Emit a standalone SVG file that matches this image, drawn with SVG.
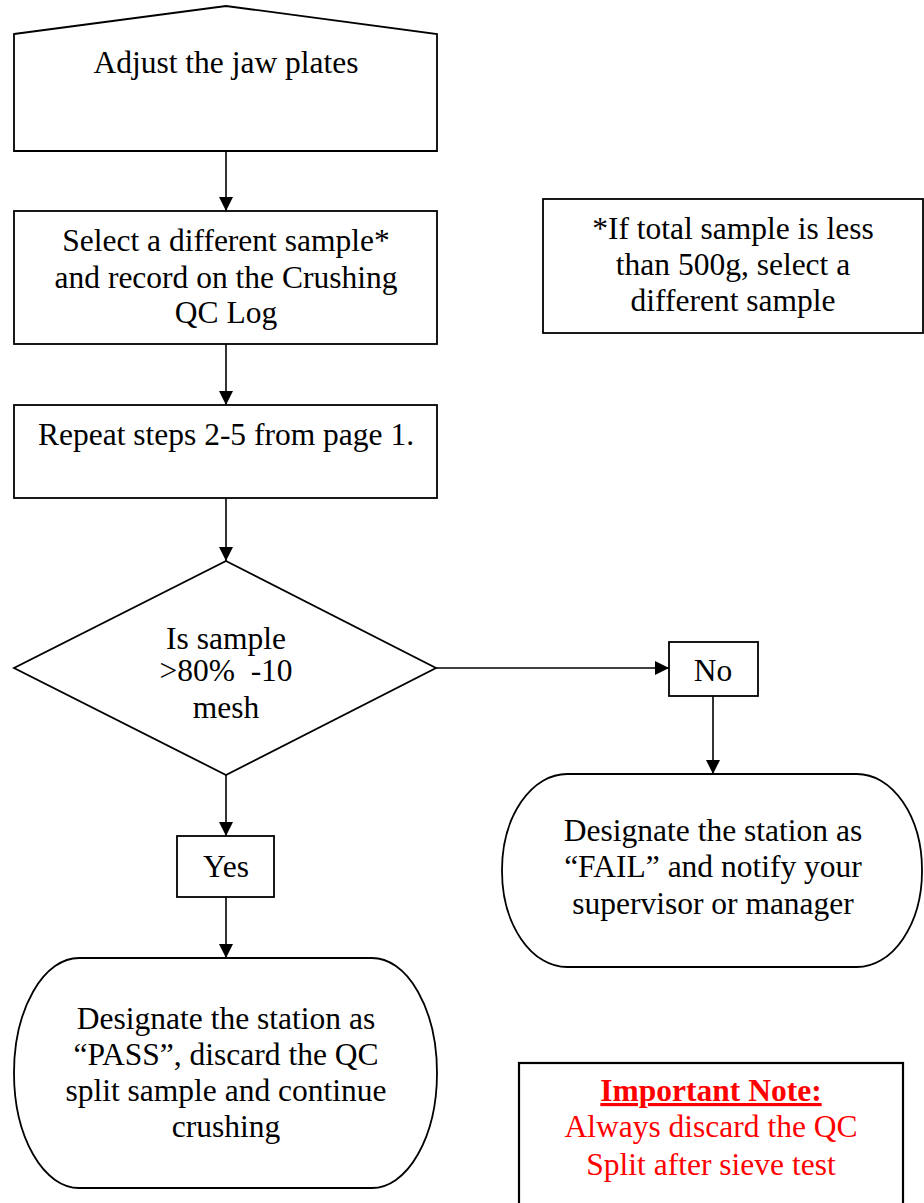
<svg xmlns="http://www.w3.org/2000/svg" width="924" height="1203" viewBox="0 0 924 1203">
<defs>
<style>
.s{fill:#fff;stroke:#000;stroke-width:1.8}
.t{font-family:"Liberation Serif","Times New Roman",serif;font-size:31.5px;fill:#000;text-anchor:middle}
.r{fill:#f00}
.c{stroke:#000;stroke-width:1.6;fill:none}
</style>
<marker id="ah" markerWidth="14" markerHeight="14" refX="14" refY="7" orient="auto" markerUnits="userSpaceOnUse">
<path d="M0,0 L14,7 L0,14 Z" fill="#000"/>
</marker>
</defs>
<rect width="924" height="1203" fill="#fff"/>
<g id="connectors">
<line class="c" x1="226" y1="151" x2="226" y2="211" marker-end="url(#ah)"/>
<line class="c" x1="226" y1="344" x2="226" y2="405" marker-end="url(#ah)"/>
<line class="c" x1="226" y1="498" x2="226" y2="561" marker-end="url(#ah)"/>
<line class="c" x1="436" y1="668" x2="669" y2="668" marker-end="url(#ah)"/>
<line class="c" x1="713" y1="696" x2="713" y2="774" marker-end="url(#ah)"/>
<line class="c" x1="226" y1="775" x2="226" y2="836" marker-end="url(#ah)"/>
<line class="c" x1="226" y1="897" x2="226" y2="958" marker-end="url(#ah)"/>
</g>
<g id="adjust">
<path class="s" d="M14,34 L226,6 L437,34 L437,151 L14,151 Z"/>
<text class="t" x="226" y="73">Adjust the jaw plates</text>
</g>
<g id="select">
<rect class="s" x="14" y="211" width="423" height="133"/>
<text class="t" x="226" y="251">Select a different sample*</text>
<text class="t" x="226" y="288">and record on the Crushing</text>
<text class="t" x="226" y="323">QC Log</text>
</g>
<g id="note">
<rect class="s" x="543" y="199" width="380" height="134"/>
<text class="t" x="733" y="239">*If total sample is less</text>
<text class="t" x="733" y="275">than 500g, select a</text>
<text class="t" x="733" y="311">different sample</text>
</g>
<g id="repeat">
<rect class="s" x="14" y="405" width="423" height="93"/>
<text class="t" x="226" y="445">Repeat steps 2-5 from page 1.</text>
</g>
<g id="decision">
<path class="s" d="M226,561 L436,668 L226,775 L14,668 Z"/>
<text class="t" x="226" y="649">Is sample</text>
<text class="t" x="226" y="681" xml:space="preserve">&gt;80%  -10</text>
<text class="t" x="226" y="718">mesh</text>
</g>
<g id="no">
<rect class="s" x="669" y="642" width="89" height="54"/>
<text class="t" x="713" y="681">No</text>
</g>
<g id="fail">
<rect class="s" x="502" y="774" width="420" height="193" rx="65" ry="96"/>
<text class="t" x="713" y="841">Designate the station as</text>
<text class="t" x="713" y="877">“FAIL” and notify your</text>
<text class="t" x="713" y="914">supervisor or manager</text>
</g>
<g id="yes">
<rect class="s" x="177" y="836" width="97" height="61"/>
<text class="t" x="226" y="877">Yes</text>
</g>
<g id="pass">
<rect class="s" x="14" y="958" width="423" height="230" rx="65" ry="115"/>
<text class="t" x="226" y="1029">Designate the station as</text>
<text class="t" x="226" y="1065">“PASS”, discard the QC</text>
<text class="t" x="226" y="1101">split sample and continue</text>
<text class="t" x="226" y="1137">crushing</text>
</g>
<g id="important">
<rect x="519" y="1063" width="384" height="150" fill="#fff" stroke="#000" stroke-width="2.2"/>
<text class="t r" x="711" y="1101" font-weight="bold" text-decoration="underline">Important Note:</text>
<text class="t r" x="711" y="1137">Always discard the QC</text>
<text class="t r" x="711" y="1175">Split after sieve test</text>
</g>
</svg>
